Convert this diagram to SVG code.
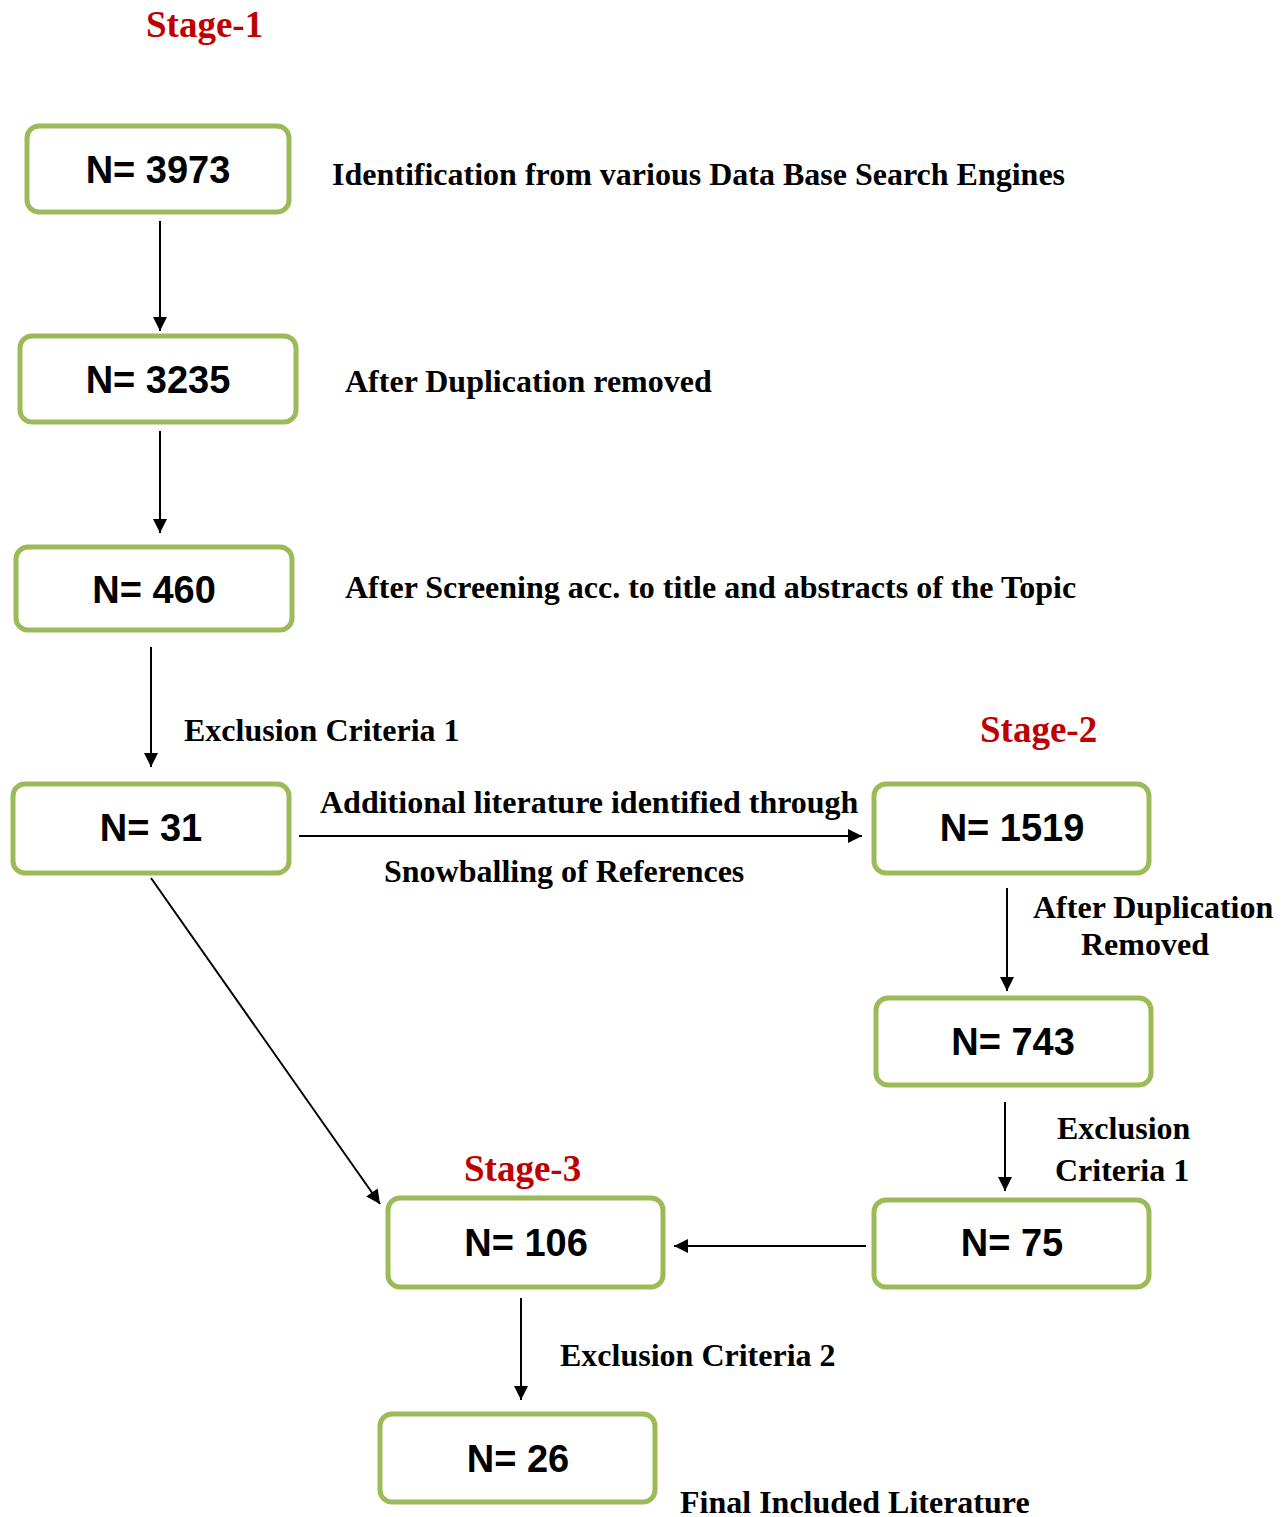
<svg xmlns="http://www.w3.org/2000/svg" width="1287" height="1517" viewBox="0 0 1287 1517">
<style>
.box{fill:#fff;stroke:#9bbb59;stroke-width:5}
.n{font-family:"Liberation Sans",Arial,sans-serif;font-weight:bold;font-size:38px;text-anchor:middle;fill:#000}
.t{font-family:"Liberation Serif","Times New Roman",serif;font-weight:bold;font-size:32px;fill:#000}
.s{font-family:"Liberation Serif","Times New Roman",serif;font-weight:bold;font-size:37px;fill:#c00000}
.c{stroke:#000;stroke-width:2;fill:none;marker-end:url(#ah)}
</style>
<defs>
<marker id="ah" viewBox="0 0 10 10" refX="10" refY="5" markerWidth="16" markerHeight="14" markerUnits="userSpaceOnUse" orient="auto"><path d="M0,0L10,5L0,10z" fill="#000"/></marker>
</defs>
<rect width="1287" height="1517" fill="#fff"/>
<g id="connectors">
<line class="c" x1="160" y1="221" x2="160" y2="331"/>
<line class="c" x1="160" y1="431" x2="160" y2="533"/>
<line class="c" x1="151" y1="647" x2="151" y2="767"/>
<line class="c" x1="299" y1="836" x2="862" y2="836"/>
<line class="c" x1="1007" y1="888" x2="1007" y2="991"/>
<line class="c" x1="1005" y1="1102" x2="1005" y2="1191"/>
<line class="c" x1="866" y1="1246" x2="674" y2="1246"/>
<line class="c" x1="521" y1="1298" x2="521" y2="1400"/>
<line class="c" x1="151" y1="878" x2="380" y2="1204"/>
</g>
<g id="labels">
<text class="s" x="146" y="37">Stage-1</text>
<text class="s" x="980" y="742">Stage-2</text>
<text class="s" x="464" y="1181">Stage-3</text>
<text class="t" x="332" y="185">Identification from various Data Base Search Engines</text>
<text class="t" x="345" y="392">After Duplication removed</text>
<text class="t" x="345" y="598">After Screening acc. to title and abstracts of the Topic</text>
<text class="t" x="184" y="741">Exclusion Criteria 1</text>
<text class="t" x="320" y="813">Additional literature identified through</text>
<text class="t" x="384" y="882">Snowballing of References</text>
<text class="t" x="1033" y="918">After Duplication</text>
<text class="t" x="1081" y="955">Removed</text>
<text class="t" x="1057" y="1139">Exclusion</text>
<text class="t" x="1055" y="1181">Criteria 1</text>
<text class="t" x="560" y="1366">Exclusion Criteria 2</text>
<text class="t" x="680" y="1513">Final Included Literature</text>
</g>
<g id="n3973"><rect class="box" x="27" y="126" width="262" height="86" rx="12"/><text class="n" x="158" y="183">N= 3973</text></g>
<g id="n3235"><rect class="box" x="20" y="336" width="276" height="86" rx="12"/><text class="n" x="158" y="393">N= 3235</text></g>
<g id="n460"><rect class="box" x="16" y="547" width="276" height="83" rx="12"/><text class="n" x="154" y="603">N= 460</text></g>
<g id="n31"><rect class="box" x="13" y="784" width="276" height="89" rx="12"/><text class="n" x="151" y="841">N= 31</text></g>
<g id="n1519"><rect class="box" x="874" y="784" width="275" height="89" rx="12"/><text class="n" x="1012" y="841">N= 1519</text></g>
<g id="n743"><rect class="box" x="876" y="998" width="275" height="87" rx="12"/><text class="n" x="1013" y="1055">N= 743</text></g>
<g id="n75"><rect class="box" x="874" y="1200" width="275" height="87" rx="12"/><text class="n" x="1012" y="1256">N= 75</text></g>
<g id="n106"><rect class="box" x="388" y="1198" width="275" height="89" rx="12"/><text class="n" x="526" y="1256">N= 106</text></g>
<g id="n26"><rect class="box" x="380" y="1414" width="275" height="88" rx="12"/><text class="n" x="518" y="1472">N= 26</text></g>
</svg>
